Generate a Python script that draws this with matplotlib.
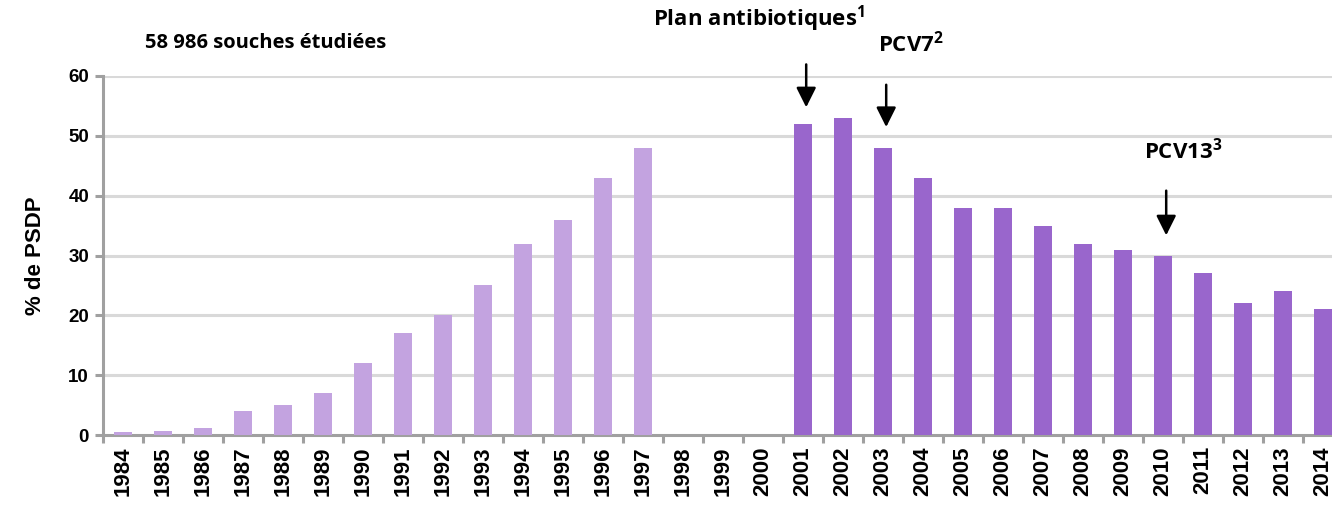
import numpy as np
import matplotlib
matplotlib.use("Agg")
import matplotlib.pyplot as plt

years = list(range(1984, 2015))
# None = no data for that year
values = [0.5, 0.7, 1.2, 4, 5, 7, 12, 17, 20, 25, 32, 36, 43, 48,
          None, None, None,
          52, 53, 48, 43, 38, 38, 35, 32, 31, 30, 27, 22, 24, 21]
light = "#C3A3E0"
dark = "#9966CC"

events = ["Plan antibiotiques$^{1}$", "PCV7$^{2}$", "PCV13$^{3}$"]
event_years = [2001, 2003, 2010]

plt.rcParams["mathtext.fontset"] = "custom"
plt.rcParams["mathtext.rm"] = "Open Sans"
plt.rcParams["mathtext.default"] = "regular"

fig = plt.figure(figsize=(13.32, 5.05), dpi=100)
ax = fig.add_axes([103 / 1332, 70 / 505, 1 - 103 / 1332, 359 / 505])

x = np.arange(len(years))
for i, v in enumerate(values):
    if v is None:
        continue
    col = light if years[i] < 1998 else dark
    ax.bar(x[i], v, width=0.44, color=col, zorder=3)

ax.set_yticks(range(0, 61, 10))
for t in range(10, 61, 10):
    ax.axhline(t, color="#D9D9D9", lw=2.2, zorder=1)

ax.set_xticks(x)
ax.set_xticklabels([str(y) for y in years], rotation=90, fontsize=16,
                   fontweight="bold", family="Liberation Sans")
ax.tick_params(axis="x", length=0, pad=8)
ax.set_xticks(np.arange(-0.5, len(years), 1), minor=True)
ax.tick_params(axis="x", which="minor", length=6, width=2.2, color="#A0A0A0")
ax.tick_params(axis="y", length=6, width=2.2, color="#A0A0A0", pad=4)
for lab in ax.get_yticklabels():
    lab.set_fontsize(13.5)
    lab.set_fontweight("bold")
    lab.set_family("Liberation Sans")

# limits after ticks, the chart is cut on the right
ax.set_ylim(0, 60)
ax.set_xlim(-0.5, (1332 - 103) / 40 - 0.5)

for s in ["top", "right"]:
    ax.spines[s].set_visible(False)
for s in ["left", "bottom"]:
    ax.spines[s].set_color("#A0A0A0")
    ax.spines[s].set_linewidth(2.2)

ax.set_ylabel("% de PSDP", fontsize=16, fontweight="bold",
              family="Liberation Sans", labelpad=16)

fig.text(145 / 1332, 1 - 43 / 505, "58 986 souches étudiées", fontsize=14.5,
         fontweight="bold", family="Open Sans", va="center", ha="left")

# event labels and arrows
text_pos = [(15.9, 69.6), (19.7, 65.4), (26.5, 47.5)]
arrow_y = [(62.4, 54.3), (59.0, 51.0), (41.3, 32.9)]
for name, yr, (tx, ty), (y0, y1) in zip(events, event_years, text_pos, arrow_y):
    xi = yr - years[0]
    ax.text(tx, ty, name, fontsize=16, fontweight="bold", family="Open Sans",
            ha="center", va="center", clip_on=False)
    ax.annotate("", xy=(xi + 0.08, y1), xytext=(xi + 0.08, y0),
                annotation_clip=False,
                arrowprops=dict(arrowstyle="-|>,head_length=0.6,head_width=0.3",
                                mutation_scale=20, color="black", lw=1.8))

fig.savefig("out.png", dpi=100)
